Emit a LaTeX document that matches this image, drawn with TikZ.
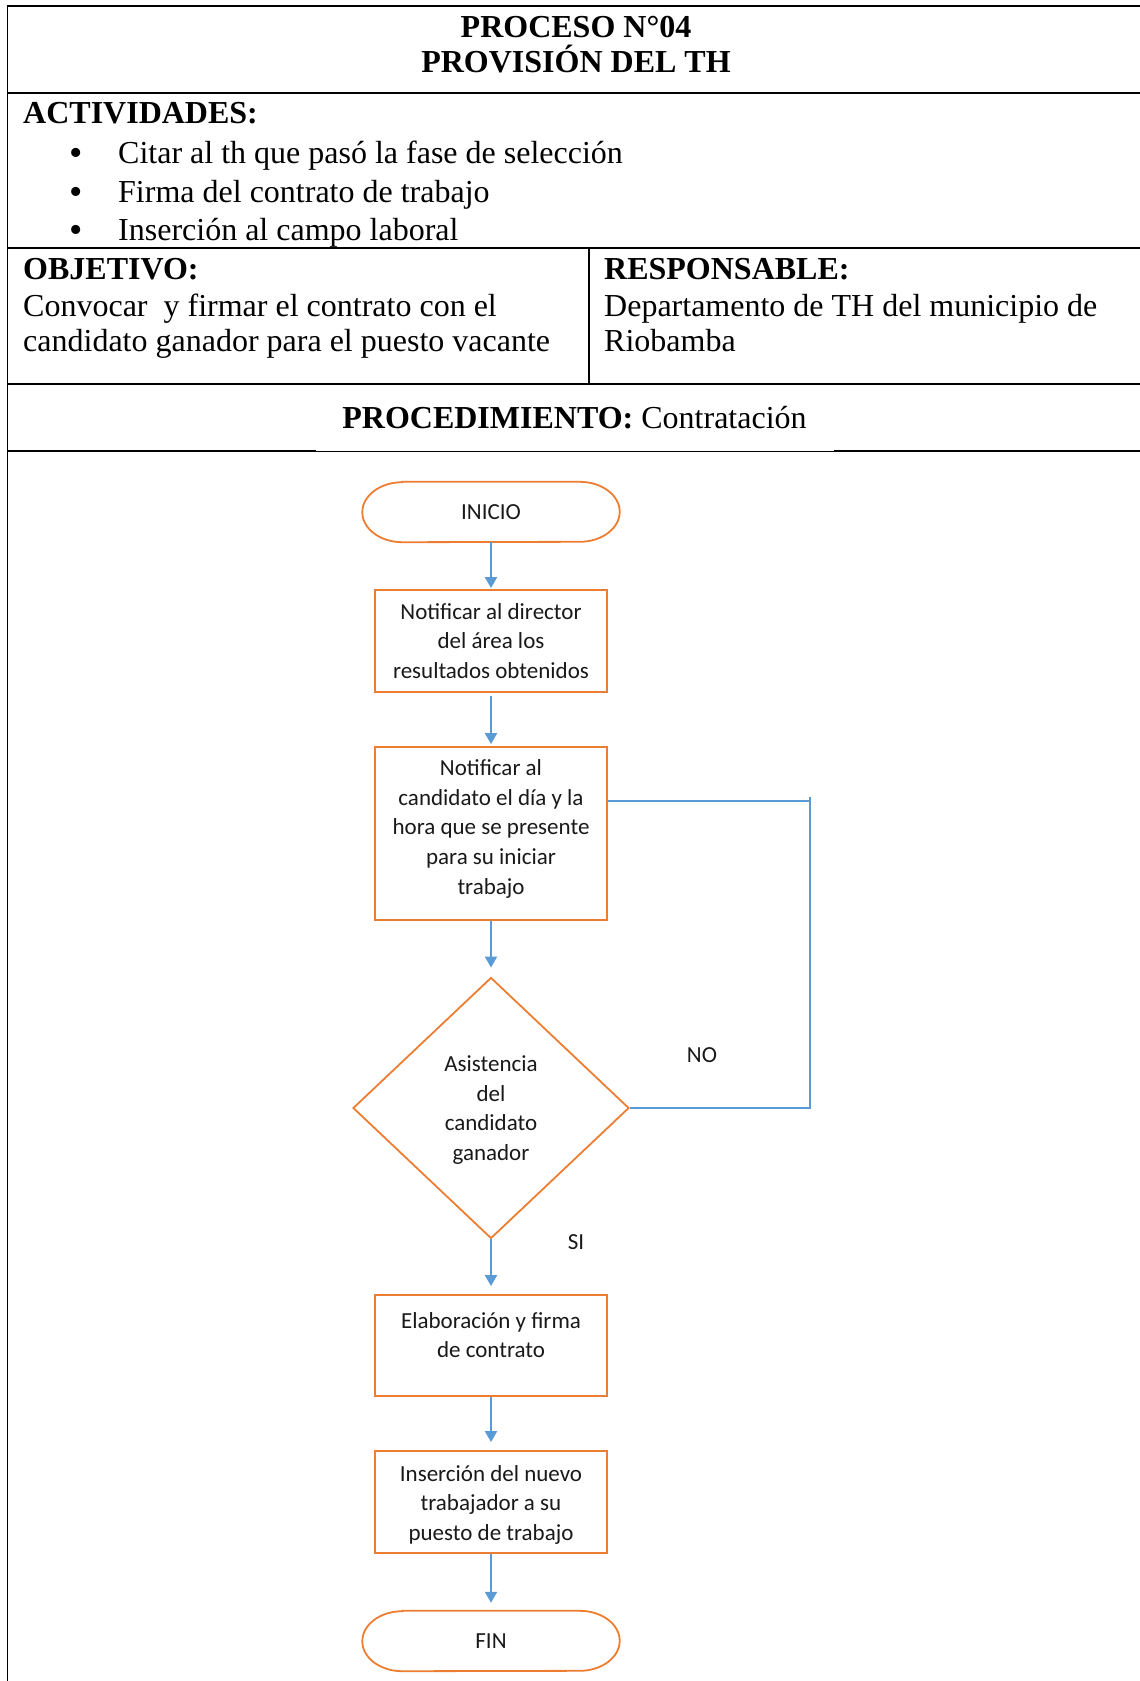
\documentclass[tikz,border=0pt]{standalone}
\usepackage{fontspec}
\setmainfont{Liberation Serif}
\newfontfamily\flowfont{Carlito}
\usetikzlibrary{shapes.geometric,arrows.meta}
\definecolor{boxorange}{RGB}{237,125,49}
\definecolor{linkblue}{RGB}{91,155,213}
% stadium outline around a terminal node
\newcommand\stadiumframe[1]{%
  \draw[termline] ([xshift=40pt]#1.north west) -- ([xshift=-40pt]#1.north east)
    arc[start angle=90,end angle=-90,x radius=40pt,y radius=30pt]
    -- ([xshift=40pt]#1.south west)
    arc[start angle=270,end angle=90,x radius=40pt,y radius=30pt] -- cycle;}
% centred lines, moved up or down without changing the box extents
\newcommand\liftlines[2]{%
  \raisebox{#1}[\height][\depth]{\begin{tabular}{@{}c@{}}#2\end{tabular}}}
\begin{document}
\begin{tikzpicture}[x=1pt,y=-1pt,
  rule/.style={line width=1.7pt},
  thinrule/.style={line width=0.9pt},
  bodyl/.style={inner sep=0pt,anchor=base west,font=\fontsize{32}{38}\selectfont},
  headl/.style={bodyl,font=\fontsize{32}{38}\selectfont\bfseries},
  headc/.style={inner sep=0pt,anchor=base,font=\fontsize{32}{38}\selectfont\bfseries},
  bodyc/.style={inner sep=0pt,anchor=base,font=\fontsize{32}{38}\selectfont},
  bulletmark/.style={inner sep=0pt,anchor=base,font=\fontsize{38}{38}\selectfont},
  flowtext/.style={font=\flowfont\fontsize{23}{29.7}\selectfont,text=black!90},
  stepbox/.style={flowtext,draw=boxorange,line width=1.8pt,minimum width=232pt,
    align=center,inner sep=0pt},
  decision/.style={flowtext,diamond,draw=boxorange,line width=1.8pt,
    minimum width=276pt,minimum height=261pt,align=center,inner sep=0pt},
  terminal/.style={flowtext,minimum width=257pt,minimum height=60pt,inner sep=0pt},
  termline/.style={draw=boxorange,line width=1.8pt},
  flowlabel/.style={flowtext,inner sep=0pt},
  flow/.style={draw=linkblue,line width=2pt,-{Triangle[length=11pt,width=12pt]}},
  link/.style={draw=linkblue,line width=2pt}
]
\useasboundingbox (0,0) rectangle (1140,1681);

% table rules
\draw[rule] (7.5,5.7) -- (1140,5.7);
\draw[rule] (7.5,92.7) -- (1140,92.7);
\draw[rule] (7.5,248) -- (1140,248);
\draw[rule] (7.5,384) -- (1140,384);
\draw[rule] (7.5,451) -- (316,451);
\draw[thinrule] (316,451) -- (834,451);
\draw[rule] (834,451) -- (1140,451);
\draw[rule] (7.5,4.85) -- (7.5,1681);
\draw[rule] (589,248) -- (589,384);

% header texts
\node[headc] (title1) at (576,37.3) {PROCESO N°04};
\node[headc] (title2) at (576,72.7) {PROVISIÓN DEL TH};
\node[headl] (act) at (23,123) {ACTIVIDADES:};
\node[bulletmark] (bul1) at (76,165) {•};
\node[bulletmark] (bul2) at (76,204) {•};
\node[bulletmark] (bul3) at (76,242) {•};
\node[bodyl] (act1) at (118,163) {Citar al th que pasó la fase de selección};
\node[bodyl] (act2) at (118,202) {Firma del contrato de trabajo};
\node[bodyl] (act3) at (118,240) {Inserción al campo laboral};
\node[headl] (obj) at (23,279) {OBJETIVO:};
\node[headl] (resp) at (604,279) {RESPONSABLE:};
\node[bodyl] (obj1) at (23,316.7) {Convocar\ \ y firmar el contrato con el};
\node[bodyl] (obj2) at (23,351) {candidato ganador para el puesto vacante};
\node[bodyl] (resp1) at (604,316.7) {Departamento de TH del municipio de};
\node[bodyl] (resp2) at (604,351) {Riobamba};
\node[bodyc] (proc) at (574.5,428) {\textbf{PROCEDIMIENTO:} Contratación};

% flowchart
\node[terminal] (start) at (491,512) {INICIO};
\stadiumframe{start}
\node[stepbox,minimum height=102pt] (n1) at (491,641)
  {Notificar al director\\del área los\\resultados obtenidos};
\node[stepbox,minimum height=173pt] (n2) at (491,833.5)
  {\liftlines{4.5pt}{Notificar al\\candidato el día y la\\hora que se presente\\para su iniciar\\trabajo}};
\node[decision] (d1) at (491,1108)
  {\liftlines{-2pt}{Asistencia\\del\\candidato\\ganador}};
\node[stepbox,minimum height=101pt] (n3) at (491,1345.5)
  {\liftlines{-6.5pt}{Elaboración y firma\\de contrato\\\strut}};
\node[stepbox,minimum height=102pt] (n4) at (491,1502)
  {\liftlines{-3pt}{Inserción del nuevo\\trabajador a su\\puesto de trabajo}};
\node[terminal] (stop) at (491,1641) {FIN};
\stadiumframe{stop}

\node[flowlabel] (no) at (702,1055) {NO};
\node[flowlabel] (si) at (576,1242) {SI};

\draw[flow,shorten >=1pt] (start.south) -- (n1.north);
\draw[flow,shorten <=3pt,shorten >=2pt] (n1.south) -- (n2.north);
\draw[flow,shorten >=9pt] (n2.south) -- (d1.north);
\draw[flow,shorten >=8pt] (d1.south) -- (n3.north);
\draw[flow,shorten >=8pt] (n3.south) -- (n4.north);
\draw[flow,shorten >=8pt] (n4.south) -- (stop.north);

% return path from the decision back to the notice step
\coordinate (loopA) at (810,801);
\coordinate (loopB) at (810,1108);
\draw[link] (n2.east |- loopA) -- (loopA);
\draw[link] ([yshift=4pt]loopA) -- (loopB) -- (d1.east);
\end{tikzpicture}
\end{document}
